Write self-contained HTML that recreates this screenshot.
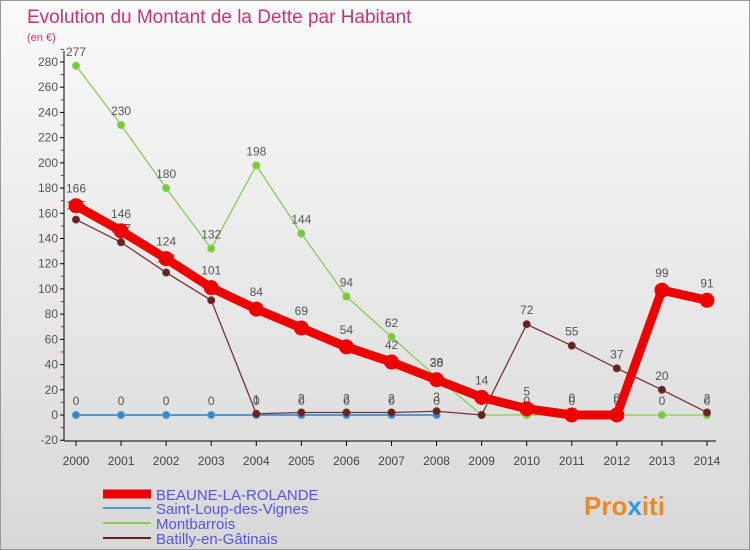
<!DOCTYPE html>
<html><head><meta charset="utf-8"><style>
body{margin:0}
#c{width:750px;height:550px;position:relative;background:linear-gradient(#fafafa,#d8d8d8);font-family:"Liberation Sans",sans-serif;overflow:hidden;border:1px solid #999;box-sizing:border-box}
</style></head><body>
<div id="c">
<svg id="s" width="750" height="550" xmlns="http://www.w3.org/2000/svg">
<text x="26" y="22" font-size="19" fill="#cc3377">Evolution du Montant de la Dette par Habitant</text>
<text x="26" y="40" font-size="11" fill="#cc3377">(en €)</text>
<g id="axes"></g><g id="series"></g>
<g>
<line x1="102" y1="493" x2="150" y2="493" stroke="#ee0000" stroke-width="9"/>
<text x="155" y="499" font-size="15" fill="#5555dd">BEAUNE-LA-ROLANDE</text>
<line x1="102" y1="507" x2="150" y2="507" stroke="#5599cc" stroke-width="2"/>
<text x="155" y="513" font-size="15" fill="#5555dd">Saint-Loup-des-Vignes</text>
<line x1="102" y1="522" x2="150" y2="522" stroke="#88cc55" stroke-width="2"/>
<text x="155" y="528" font-size="15" fill="#5555dd">Montbarrois</text>
<line x1="102" y1="537" x2="150" y2="537" stroke="#662222" stroke-width="2"/>
<text x="155" y="543" font-size="15" fill="#5555dd">Batilly-en-Gâtinais</text>
</g>
<text x="583" y="514" font-size="26" font-weight="bold" fill="#ee8822">Pro<tspan fill="#3399dd">x</tspan>iti</text>
</svg>
</div>
<script>
const years=[2000,2001,2002,2003,2004,2005,2006,2007,2008,2009,2010,2011,2012,2013,2014];
const yTicks=[-20,0,20,40,60,80,100,120,140,160,180,200,220,240,260,280];
const beaune=[166,146,124,101,84,69,54,42,28,14,5,0,0,99,91];
const saintLoup=[0,0,0,0,0,0,0,0,0,null,null,null,null,null,null];
const montbarrois=[277,230,180,132,198,144,94,62,30,0,0,0,0,0,0];
const batilly=[155,137,113,91,1,2,2,2,3,0,72,55,37,20,2];
const NS="http://www.w3.org/2000/svg";
const X=i=>75+i*(706-75)/14;
const Y=v=>414-v*(414-61)/280;
const ax=document.getElementById('axes'),sg=document.getElementById('series');
function mk(tag,at,par){const e=document.createElementNS(NS,tag);for(const k in at)e.setAttribute(k,at[k]);par.appendChild(e);return e;}
let l=mk('line',{x1:63,y1:50,x2:63,y2:440,stroke:'#000'},ax);


l=mk('line',{x1:63,y1:440,x2:715,y2:440,stroke:'#000'},ax);


yTicks.forEach(v=>{mk('line',{x1:59,y1:Y(v),x2:63,y2:Y(v),stroke:'#000'},ax);
mk('line',{x1:60,y1:Y(v+10),x2:63,y2:Y(v+10),stroke:'#e00'},ax);
const t=mk('text',{x:57,y:Y(v)+4,'font-size':12,'text-anchor':'end',fill:'#555'},ax);t.textContent=v;

});
years.forEach((yr,i)=>{mk('line',{x1:X(i),y1:440,x2:X(i),y2:445,stroke:'#000'},ax);
const t=mk('text',{x:X(i),y:464,'font-size':12,'text-anchor':'middle',fill:'#444'},ax);t.textContent=yr;

});
function draw(name,data,color,w,r,fill){
const g=mk('g',{},sg);


let pts=[];data.forEach((v,i)=>{if(v!==null)pts.push(X(i)+','+Y(v));});
mk('polyline',{points:pts.join(' '),fill:'none',stroke:color,'stroke-width':w,'stroke-linejoin':'round'},g);
data.forEach((v,i)=>{if(v===null)return;
const c=mk('circle',{cx:X(i),cy:Y(v),r:r,fill:fill,stroke:color,'stroke-width':1},g);


const t=mk('text',{x:X(i),y:Y(v)-10-(r>5?3:0),'font-size':12,'text-anchor':'middle',fill:'#555'},g);t.textContent=v;

});}
draw('saint-loup',saintLoup,'#5599cc',2,3.5,'#3388cc');
draw('montbarrois',montbarrois,'#88cc55',1.3,3.5,'#77cc33');
draw('batilly',batilly,'#773333',1.3,3.5,'#662222');
draw('beaune',beaune,'#ee0000',9,7,'#ee0000');
</script>
</body></html>
